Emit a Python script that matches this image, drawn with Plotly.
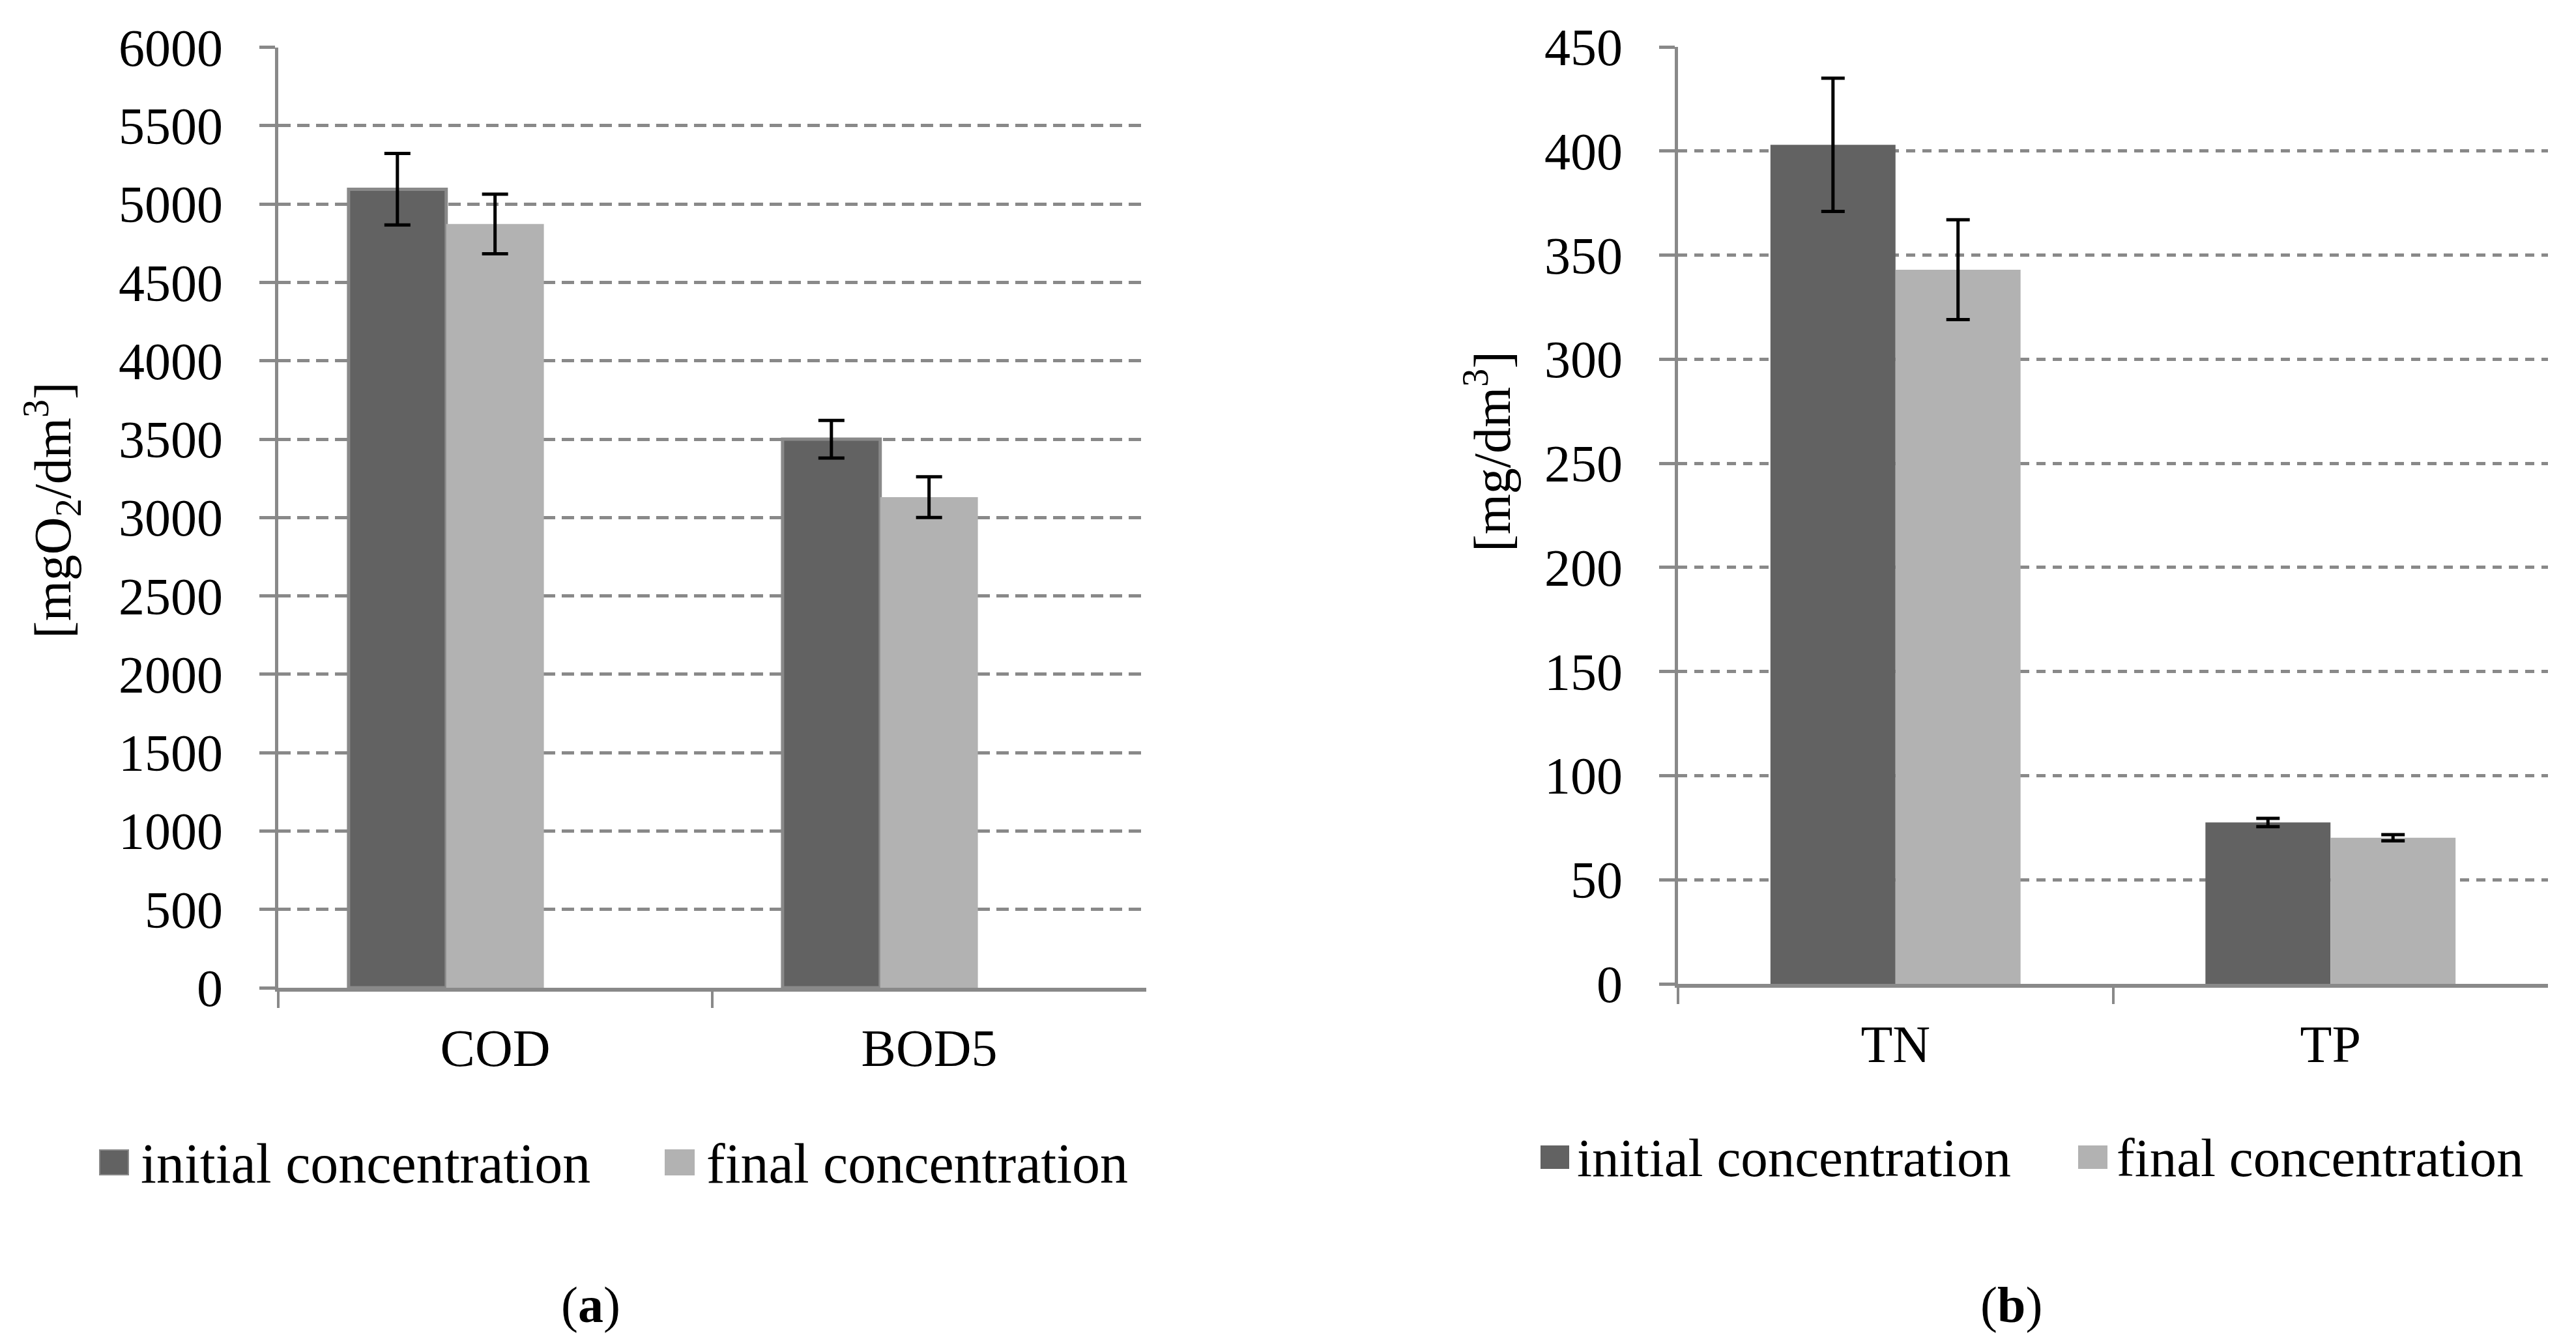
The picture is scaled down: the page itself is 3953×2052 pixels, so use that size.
import plotly.graph_objects as go

# ---- data ----
cats_a = ["COD", "BOD5"]
initial_a = [5095, 3500]
initial_a_err = [228, 120]
final_a = [4873, 3130]
final_a_err = [190, 130]

cats_b = ["TN", "TP"]
initial_b = [403, 77.5]
initial_b_err = [32, 2]
final_b = [343, 70.2]
final_b_err = [24, 1.5]

series_names = ["initial concentration", "final concentration"]
yticks_a = [0, 500, 1000, 1500, 2000, 2500, 3000, 3500, 4000, 4500, 5000, 5500, 6000]
yticks_b = [0, 50, 100, 150, 200, 250, 300, 350, 400, 450]

W, H = 3953, 2052
DARK = "#626262"
LIGHT = "#b2b2b2"
GRID = "#898989"
FONT = "Liberation Serif"
FS = 80


def px(xp):
    return xp / W


def py(yp):
    return 1 - yp / H


fig = go.Figure()

# panel (a)
fig.add_trace(go.Bar(
    x=cats_a, y=initial_a, name=series_names[0], xaxis="x", yaxis="y",
    marker=dict(color=DARK, line=dict(color=GRID, width=5)),
    width=0.225, offset=-0.338,
    error_y=dict(type="data", array=initial_a_err, color="black", thickness=5, width=20),
    showlegend=False))
fig.add_trace(go.Bar(
    x=cats_a, y=final_a, name=series_names[1], xaxis="x", yaxis="y",
    marker=dict(color=LIGHT, line=dict(width=0)),
    width=0.225, offset=-0.113,
    error_y=dict(type="data", array=final_a_err, color="black", thickness=5, width=20),
    showlegend=False))

# panel (b)
fig.add_trace(go.Bar(
    x=cats_b, y=initial_b, name=series_names[0], xaxis="x2", yaxis="y2",
    marker=dict(color=DARK, line=dict(width=0)),
    width=0.2875, offset=-0.2875,
    error_y=dict(type="data", array=initial_b_err, color="black", thickness=5, width=18),
    showlegend=False))
fig.add_trace(go.Bar(
    x=cats_b, y=final_b, name=series_names[1], xaxis="x2", yaxis="y2",
    marker=dict(color=LIGHT, line=dict(width=0)),
    width=0.2875, offset=0,
    error_y=dict(type="data", array=final_b_err, color="black", thickness=5, width=18),
    showlegend=False))

xcommon = dict(type="category", showline=True, linecolor=GRID, linewidth=6,
               ticks="outside", tickson="boundaries", ticklen=25, tickwidth=4,
               tickcolor=GRID, showgrid=False, zeroline=False, automargin=False,
               tickfont=dict(family=FONT, size=FS, color="black"),
               ticklabelstandoff=18)
ycommon = dict(showline=True, linecolor=GRID, linewidth=5, ticks="outside",
               ticklen=24, tickwidth=5, tickcolor=GRID, showgrid=True,
               gridcolor=GRID, gridwidth=5, zeroline=False, automargin=False,
               tickfont=dict(family=FONT, size=FS, color="black"),
               ticklabelstandoff=40)

fig.update_layout(
    width=W, height=H,
    margin=dict(l=0, r=0, t=0, b=0, autoexpand=False),
    paper_bgcolor="white", plot_bgcolor="white",
    barmode="overlay",
    font=dict(family=FONT, size=FS, color="black"),
    xaxis=dict(domain=[px(419), px(1751)], anchor="y", range=[-0.5, 1.5], **xcommon),
    yaxis=dict(domain=[py(1508), py(64.7)], anchor="x", range=[0, 6000],
               tickvals=yticks_a, griddash="19px,10px", **ycommon),
    xaxis2=dict(domain=[px(2567), px(3902)], anchor="y2", range=[-0.5, 1.5], **xcommon),
    yaxis2=dict(domain=[py(1502), py(64)], anchor="x2", range=[0, 450],
                tickvals=yticks_b, griddash="14px,11px", **ycommon),
)

annotations = [
    dict(text="[mgO<sub>2</sub>/dm<sup>3</sup>]", x=px(72), y=py(775), textangle=-90),
    dict(text="[mg/dm<sup>3</sup>]", x=px(2276), y=py(685), textangle=-90),
    dict(text="(<b>a</b>)", x=px(898), y=py(1994), font=dict(family=FONT, size=78, color="black")),
    dict(text="(<b>b</b>)", x=px(3078), y=py(1994), font=dict(family=FONT, size=78, color="black")),
]
for a in annotations:
    a.setdefault("font", dict(family=FONT, size=FS, color="black"))
    fig.add_annotation(xref="paper", yref="paper", showarrow=False,
                       xanchor="center", yanchor="middle", **a)

# manual legends (one per panel)
legend_items = [
    # (x0, x1, y0, y1, color, border, text_x, text_y, label, size)
    (145, 189, 1757, 1795, DARK, GRID, 206, 1778, series_names[0], 86),
    (1013, 1057, 1757, 1795, LIGHT, None, 1074, 1778, series_names[1], 86),
    (2357, 2399, 1751, 1785, DARK, None, 2410, 1769, series_names[0], 83),
    (3182, 3225, 1751, 1785, LIGHT, None, 3238, 1769, series_names[1], 83),
]
for x0, x1, y0, y1, col, border, tx, ty, label, fsz in legend_items:
    fig.add_shape(type="rect", xref="paper", yref="paper",
                  x0=px(x0), x1=px(x1), y0=py(y1), y1=py(y0),
                  fillcolor=col,
                  line=dict(color=border if border else col, width=2))
    fig.add_annotation(xref="paper", yref="paper", showarrow=False,
                       x=px(tx), y=py(ty), xanchor="left", yanchor="middle",
                       text=label, font=dict(family=FONT, size=fsz, color="black"))

fig.write_html("out.html")
